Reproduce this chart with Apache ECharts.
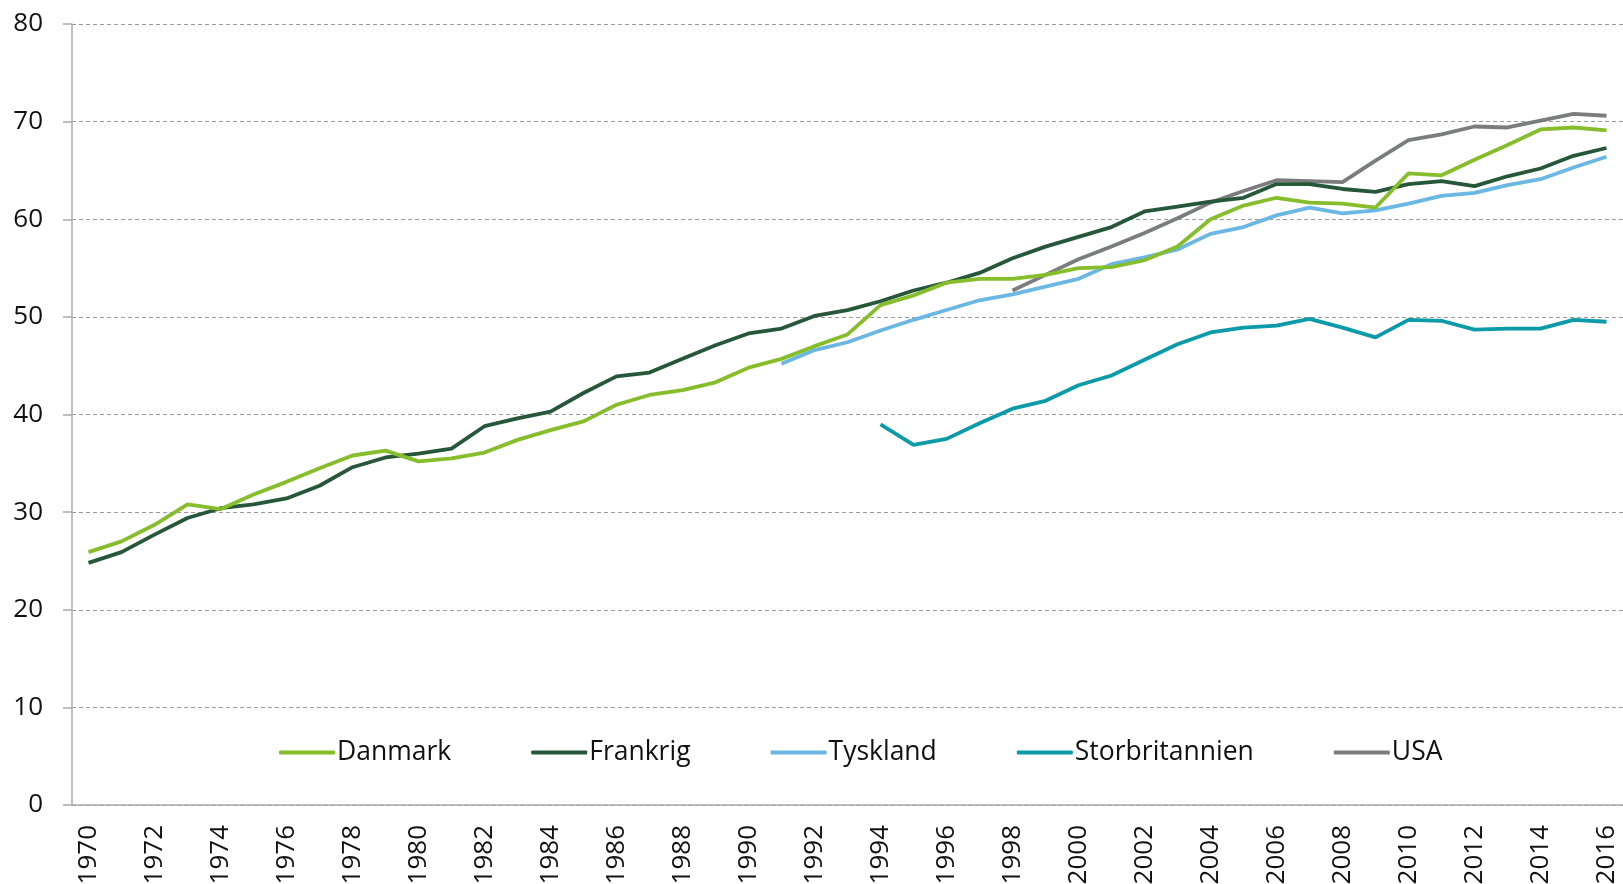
<!DOCTYPE html>
<html>
<head>
<meta charset="utf-8">
<script src="https://cdn.jsdelivr.net/npm/echarts@6/dist/echarts.min.js"></script>
<style>
  html, body { margin: 0; padding: 0; background: #fff; }
  #chart { width: 1623px; height: 884px; }
</style>
</head>
<body>
<div id="chart"></div>
<script>
// years on the x axis
var years = []
for (var y = 1970; y <= 2016; y++) years.push(String(y))

// values, null where a country has no data
var danmark = [25.9, 27.0, 28.7, 30.8, 30.3, 31.8, 33.1, 34.5, 35.8, 36.3,
  35.2, 35.5, 36.1, 37.4, 38.4, 39.3, 41.0, 42.0, 42.5, 43.3,
  44.8, 45.7, 47.0, 48.2, 51.2, 52.2, 53.5, 53.9, 53.9, 54.3,
  55.0, 55.1, 55.8, 57.2, 60.0, 61.4, 62.2, 61.7, 61.6, 61.2,
  64.7, 64.5, 66.1, 67.6, 69.2, 69.4, 69.1]
var frankrig = [24.8, 25.9, 27.7, 29.4, 30.4, 30.8, 31.4, 32.7, 34.6, 35.6,
  36.0, 36.5, 38.8, 39.6, 40.3, 42.2, 43.9, 44.3, 45.7, 47.1,
  48.3, 48.8, 50.1, 50.7, 51.6, 52.7, 53.5, 54.5, 56.0, 57.2,
  58.2, 59.2, 60.8, 61.3, 61.8, 62.2, 63.6, 63.6, 63.1, 62.8,
  63.6, 63.9, 63.4, 64.4, 65.2, 66.5, 67.3]
var tyskland = [null, null, null, null, null, null, null, null, null, null,
  null, null, null, null, null, null, null, null, null, null,
  null, 45.2, 46.6, 47.4, 48.6, 49.7, 50.7, 51.7, 52.3, 53.1,
  53.9, 55.4, 56.1, 56.9, 58.5, 59.2, 60.4, 61.2, 60.6, 60.9,
  61.6, 62.4, 62.7, 63.5, 64.1, 65.3, 66.4]
var storbritannien = [null, null, null, null, null, null, null, null, null, null,
  null, null, null, null, null, null, null, null, null, null,
  null, null, null, null, 39.0, 36.9, 37.5, 39.1, 40.6, 41.4,
  43.0, 44.0, 45.6, 47.2, 48.4, 48.9, 49.1, 49.8, 48.9, 47.9,
  49.7, 49.6, 48.7, 48.8, 48.8, 49.7, 49.5]
var usa = [null, null, null, null, null, null, null, null, null, null,
  null, null, null, null, null, null, null, null, null, null,
  null, null, null, null, null, null, null, null, 52.7, 54.3,
  55.9, 57.2, 58.6, 60.1, 61.7, 62.9, 64.0, 63.9, 63.8, 66.0,
  68.1, 68.7, 69.5, 69.4, 70.1, 70.8, 70.6]

var seriesNames = ["Danmark", "Frankrig", "Tyskland", "Storbritannien", "USA"]
var seriesData = [danmark, frankrig, tyskland, storbritannien, usa]
var colors = ["#86bd2b", "#27573a", "#6bb7e4", "#0a9aa8", "#7b7c7e"]

var chart = echarts.init(document.getElementById("chart"))

var series = seriesNames.map(function (name, i) {
  return {
    name: name,
    type: "line",
    data: seriesData[i],
    symbol: "none",
    connectNulls: false,
    lineStyle: { width: 3.8, color: colors[i] },
    itemStyle: { color: colors[i] },
    z: 10 - i
  }
})

var option = {
  animation: false,
  textStyle: { fontFamily: "Open Sans" },
  grid: { left: 72, right: 0, top: 24, bottom: 79, containLabel: false, outerBoundsMode: "none" },
  legend: {
    data: seriesNames,
    left: 274,
    top: 734,
    icon: "roundRect",
    itemWidth: 56,
    itemHeight: 4,
    itemGap: 80,
    textStyle: { fontSize: 26.5, color: "#111111", padding: [0, 0, 0, -3] }
  },
  xAxis: {
    type: "category",
    data: years,
    boundaryGap: true,
    axisLine: { lineStyle: { color: "#aaaaaa", width: 1.5 } },
    axisTick: { interval: 0, length: 8, lineStyle: { color: "#aaaaaa", width: 1.5 } },
    axisLabel: { interval: 1, rotate: 90, margin: 20, fontSize: 26, color: "#111111" },
    splitLine: { show: false }
  },
  yAxis: {
    type: "value",
    min: 0,
    max: 80,
    interval: 10,
    axisLine: { show: true, lineStyle: { color: "#aaaaaa", width: 1.5 } },
    axisTick: { show: true, length: 9, lineStyle: { color: "#aaaaaa", width: 1.5 } },
    axisLabel: { margin: 29, fontSize: 26, color: "#111111" },
    splitLine: { lineStyle: { color: "#9a9a9a", type: [4, 3], width: 1 } }
  },
  series: series
}

chart.setOption(option)
</script>
</body>
</html>
